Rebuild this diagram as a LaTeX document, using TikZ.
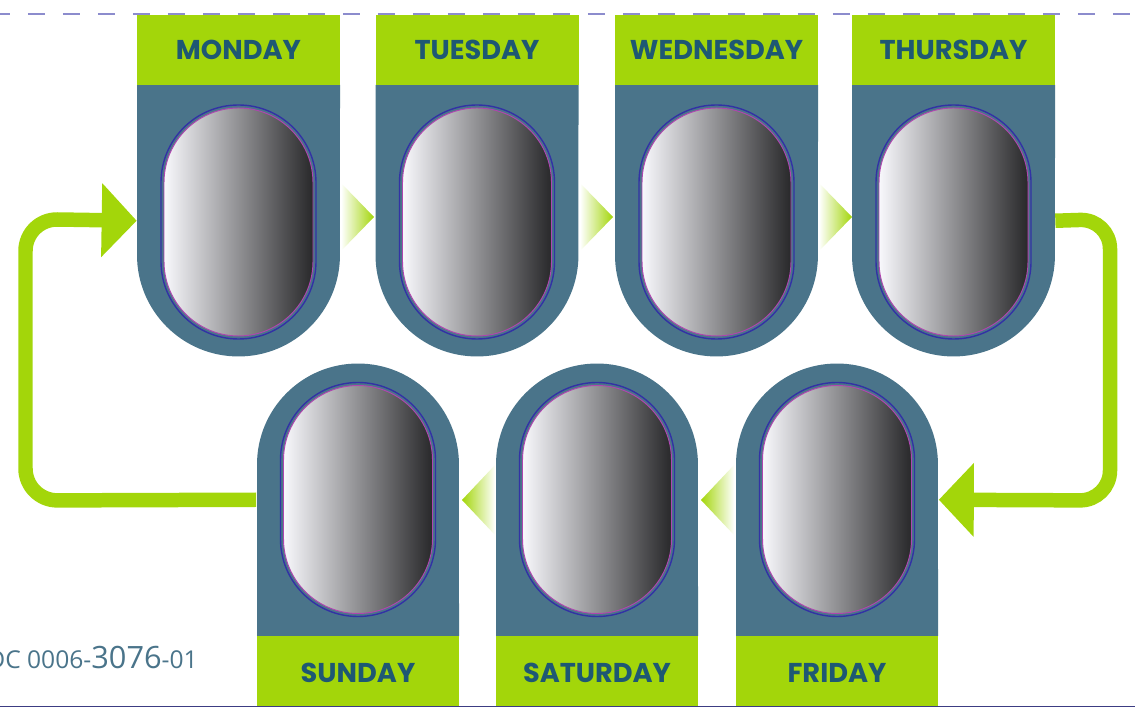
\documentclass[tikz,border=0pt]{standalone}
\usepackage{fontspec}
\usetikzlibrary{arrows.meta}
\newfontfamily\dayfont{Poppins}
\newfontfamily\codefont{Open Sans}

\definecolor{daygreen}{RGB}{163,214,10}
\definecolor{dayblue}{RGB}{74,116,138}
\definecolor{daytext}{RGB}{30,88,115}
\definecolor{capblue}{RGB}{50,50,165}
\definecolor{capmag}{RGB}{175,70,175}
\definecolor{caplight}{RGB}{248,248,252}
\definecolor{capmid}{RGB}{152,153,160}
\definecolor{capdark}{RGB}{40,40,42}
\definecolor{dashcol}{RGB}{140,140,205}
\definecolor{rulecol}{RGB}{60,60,130}

\tikzset{
    daylabel/.style={font=\dayfont\bfseries\fontsize{15.5}{18}\selectfont, text=daytext, inner sep=0pt},
    bodybox/.style={minimum width=4.06cm, minimum height=5.43cm, inner sep=0pt},
    capline/.style={draw=capblue, line width=0.8pt, rounded corners=1.55cm},
    capfill/.style={draw=capmag, line width=0.55pt, rounded corners=1.49cm,
        left color=caplight, middle color=capmid, right color=capdark},
    weekloop/.style={draw=daygreen, line width=0.29cm, -{Triangle[width=1.44cm, length=0.7cm]}},
}

\begin{document}
\begin{tikzpicture}[x=0.02cm, y=0.02cm]
    \useasboundingbox (0,0) rectangle (1135,713);

    % Rules on top and bottom
    \draw[dashcol, line width=1.1pt, dash pattern=on 0.34cm off 0.36cm] (-7,699) -- (1135,699);
    \draw[rulecol, line width=0.8pt] (0,6.5) -- (1135,6.5);

    % Top row: Monday to Thursday
    \foreach \x/\n/\day in {238.5/mon/MONDAY, 477/tue/TUESDAY, 716.5/wed/WEDNESDAY, 953.5/thu/THURSDAY} {
        \fill[dayblue] (\x-101.5,628) -- (\x-101.5,458) arc[start angle=180, end angle=360, radius=2.03cm] -- (\x+101.5,628) -- cycle;
        \node[bodybox] (\n) at (\x,492.25) {};
        \fill[daygreen] (\x-101.5,628) rectangle (\x+101.5,698);
        \node[daylabel] (\n-label) at (\x,663.5) {\day};
        \draw[capline] (\x-77.5,374) rectangle (\x+77.5,608);
        \shade[capfill] (\x-74.5,377) rectangle (\x+74.5,605);
    }

    % Bottom row: Sunday, Saturday, Friday
    \foreach \x/\n/\day in {358/sun/SUNDAY, 597/sat/SATURDAY, 837/fri/FRIDAY} {
        \fill[dayblue] (\x-101,77) -- (\x-101,248.5) arc[start angle=180, end angle=0, radius=2.02cm] -- (\x+101,77) -- cycle;
        \node[bodybox] (\n) at (\x,213.25) {};
        \fill[daygreen] (\x-101,7) rectangle (\x+101,77);
        \node[daylabel] (\n-label) at (\x,40) {\day};
        \draw[capline] (\x-77.5,96.5) rectangle (\x+77.5,330.5);
        \shade[capfill] (\x-74.5,99.5) rectangle (\x+74.5,327.5);
    }

    % Small arrows between the days
    \foreach \a in {341, 580, 819} {
        \shade[left color=white, right color=daygreen] (\a,530) -- (\a+33,496) -- (\a,462) -- cycle;
    }
    \foreach \a in {462, 701} {
        \shade[left color=daygreen, right color=white] (\a,213) -- (\a+33,248) -- (\a+33,178) -- cycle;
    }

    % Week loops
    \draw[weekloop, rounded corners=0.64cm] (sun.west) -- (25.5,212.5) -- (25.5,494) -- (mon.west);
    \draw[weekloop, rounded corners=0.6cm] (thu.east) -- (1110,494) -- (1110,212.5) -- (fri.east);

    % Document number
    \node[font=\codefont\fontsize{14}{16}\selectfont, text=dayblue, anchor=base west, inner sep=0pt] (docid) at (-13,45)
        {DC 0006-{\fontsize{17.5}{20}\selectfont 3076}-01};
\end{tikzpicture}
\end{document}
